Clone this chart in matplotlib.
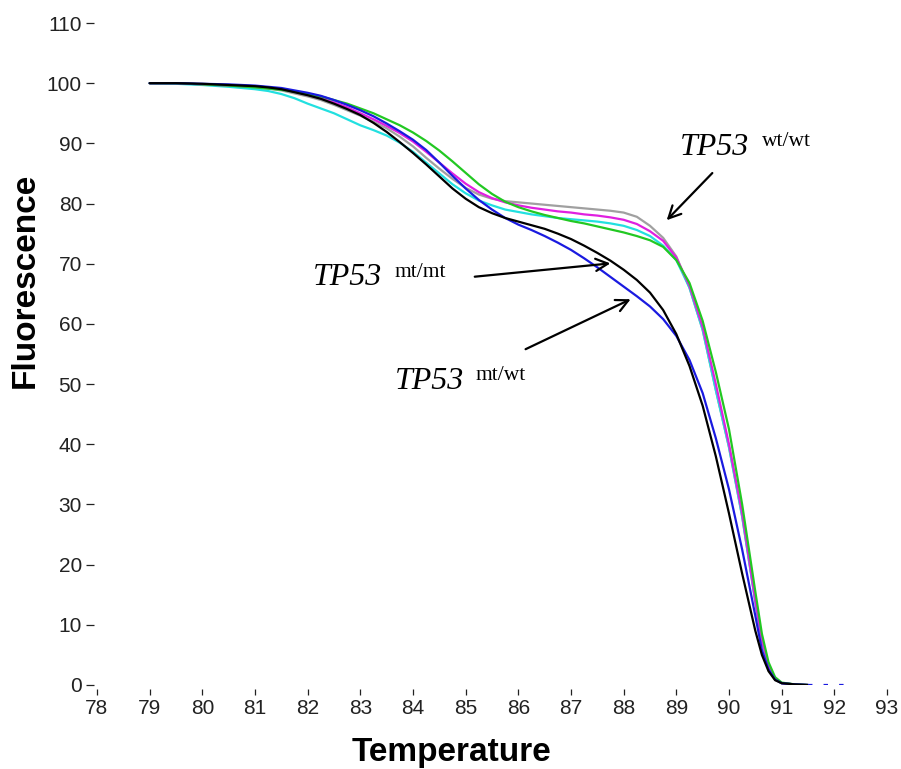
import matplotlib
matplotlib.use("Agg")
import matplotlib.pyplot as plt

# ---------------- data ----------------
temperature = [79, 79.5, 80, 80.5, 81, 81.25, 81.5, 81.75, 82, 82.25, 82.5, 82.75, 83, 83.25,
               83.5, 83.75, 84, 84.25, 84.5, 84.75, 85, 85.25, 85.5, 85.75, 86, 86.25, 86.5,
               86.75, 87, 87.25, 87.5, 87.75, 88, 88.25, 88.5, 88.75, 89, 89.25, 89.5, 89.75,
               90, 90.25, 90.5, 90.625, 90.75, 90.875, 91, 91.25, 91.5]

gray = [100, 100, 99.8, 99.6, 99.3, 99.1, 98.8, 98.3, 97.8, 97.2, 96.4, 95.5, 94.6, 93.6,
        92.5, 91.1, 89.5, 87.6, 85.8, 84.1, 82.6, 81.5, 80.8, 80.4, 80.2, 80.0, 79.8,
        79.6, 79.4, 79.2, 79.0, 78.8, 78.5, 77.8, 76.3, 74.3, 71.2, 66.0, 59.0, 49.0,
        39.5, 28.0, 13.8, 7.4, 3.2, 1.1, 0.3, 0.1, 0.0]
cyan = [100, 99.9, 99.7, 99.4, 99.0, 98.7, 98.2, 97.5, 96.6, 95.8, 95.0, 94.0, 93.0, 92.2,
        91.3, 90.1, 88.6, 86.8, 85.0, 83.2, 81.7, 80.5, 79.7, 79.0, 78.6, 78.2, 77.9,
        77.6, 77.4, 77.2, 77.0, 76.7, 76.3, 75.6, 74.6, 73.0, 70.6, 66.0, 59.0, 49.0,
        39.5, 28.0, 13.8, 7.4, 3.2, 1.1, 0.3, 0.1, 0.0]
magenta = [100, 100, 99.8, 99.6, 99.4, 99.2, 99.0, 98.6, 98.1, 97.5, 96.8, 96.0, 95.0, 94.0,
           92.9, 91.7, 90.3, 88.6, 86.8, 85.0, 83.3, 81.9, 80.9, 80.2, 79.7, 79.3, 79.0,
           78.7, 78.5, 78.2, 78.0, 77.7, 77.3, 76.6, 75.4, 73.8, 71.0, 66.3, 59.5, 50.0,
           40.0, 28.5, 14.0, 7.5, 3.3, 1.1, 0.3, 0.1, 0.0]
green = [100, 100, 99.8, 99.6, 99.3, 99.1, 98.9, 98.6, 98.2, 97.8, 97.2, 96.6, 95.8, 95.0,
         94.0, 93.0, 91.8, 90.4, 88.8, 87.0, 85.1, 83.2, 81.6, 80.3, 79.4, 78.7, 78.1,
         77.6, 77.1, 76.7, 76.2, 75.7, 75.2, 74.6, 73.9, 72.8, 70.6, 66.8, 60.5, 52.0,
         42.5, 30.0, 15.5, 8.5, 3.8, 1.3, 0.4, 0.1, 0.0]
blue = [100, 100, 99.9, 99.8, 99.6, 99.4, 99.2, 98.8, 98.4, 97.9, 97.2, 96.4, 95.5, 94.5,
        93.3, 92.0, 90.6, 88.9, 86.8, 84.6, 82.5, 80.6, 79.0, 77.6, 76.5, 75.6, 74.6,
        73.5, 72.3, 70.9, 69.4, 67.8, 66.2, 64.6, 62.9, 60.8, 58.0, 54.0, 48.5, 41.0,
        32.5, 22.5, 11.5, 5.8, 2.6, 0.9, 0.3, 0.1, 0.0]
black = [100, 100, 99.9, 99.7, 99.5, 99.3, 99.0, 98.5, 98.0, 97.4, 96.6, 95.7, 94.7, 93.4,
         91.9, 90.2, 88.4, 86.5, 84.5, 82.5, 80.8, 79.4, 78.4, 77.6, 77.0, 76.4, 75.8,
         75.0, 74.1, 73.0, 71.8, 70.5, 69.0, 67.3, 65.2, 62.3, 58.3, 53.0, 46.4, 38.0,
         28.5, 18.5, 9.0, 5.0, 2.3, 0.8, 0.3, 0.1, 0.0]

blue_tail_t = [91.5, 91.75, 92.0, 92.3]
blue_tail_v = [0.0, 0.0, 0.0, 0.0]

series = [
    (gray, "#a0a0a0"),
    (cyan, "#22e0e0"),
    (magenta, "#e020e0"),
    (green, "#22c822"),
    (blue, "#1a1ae0"),
    (black, "#000000"),
]

x_ticks = list(range(78, 94))
y_ticks = list(range(0, 111, 10))

# ---------------- figure ----------------
W, H = 901, 769
fig = plt.figure(figsize=(W / 100, H / 100), dpi=100)
ax = fig.add_axes([97 / W, 1 - 685 / H, (887 - 97) / W, (685 - 23) / H])

for vals, col in series:
    ax.plot(temperature, vals, color=col, lw=1.6, solid_capstyle="round",
            solid_joinstyle="round")
ax.plot(blue_tail_t, blue_tail_v, color="#1a1ae0", lw=1.6, ls=(0, (2, 5)))

ax.set_xlim(78, 93)
ax.set_ylim(0, 110)
for s in ax.spines.values():
    s.set_visible(False)
ax.spines["left"].set_position(("outward", 2.2))
ax.spines["bottom"].set_position(("outward", 2.9))

ax.set_xticks(x_ticks)
ax.set_yticks(y_ticks)
tick_font = dict(family="Liberation Sans", size=15)
ax.set_xticklabels([str(v) for v in x_ticks], **tick_font)
ax.set_yticklabels([str(v) for v in y_ticks], **tick_font)
ax.tick_params(axis="y", direction="out", length=5.8, width=0.9, pad=2.8, colors="#222222")
ax.tick_params(axis="x", direction="out", length=4.3, width=0.9, pad=3.2, colors="#222222")

fig.text(452 / W, 1 - 752 / H, "Temperature", ha="center", va="center",
         family="Liberation Sans", weight="bold", size=24)
fig.text(25 / W, 1 - 280 / H, "Fluorescence", ha="center", va="center", rotation=90,
         family="Liberation Sans", weight="bold", size=24)

# ---------------- annotations ----------------
serif = "Liberation Serif"
arrow = dict(arrowstyle="->", color="black", lw=1.6, mutation_scale=22)

def label(x_main, y_main, x_sup, y_sup, sup):
    ax.text(x_main, y_main, "TP53", family=serif, style="italic", size=23,
            ha="left", va="baseline")
    ax.text(x_sup, y_sup, sup, family=serif, size=15.5, ha="left", va="baseline")

label(89.07, 88.1, 90.62, 89.6, "wt/wt")
ax.annotate("", xy=(88.78, 76.9), xytext=(89.72, 85.4), arrowprops=arrow)

label(82.10, 66.5, 83.64, 67.8, "mt/mt")
ax.annotate("", xy=(87.80, 70.1), xytext=(85.12, 67.8), arrowprops=arrow)

label(83.66, 49.2, 85.18, 50.7, "mt/wt")
ax.annotate("", xy=(88.18, 64.3), xytext=(86.09, 55.6), arrowprops=arrow)

fig.savefig("out.png", dpi=100)
